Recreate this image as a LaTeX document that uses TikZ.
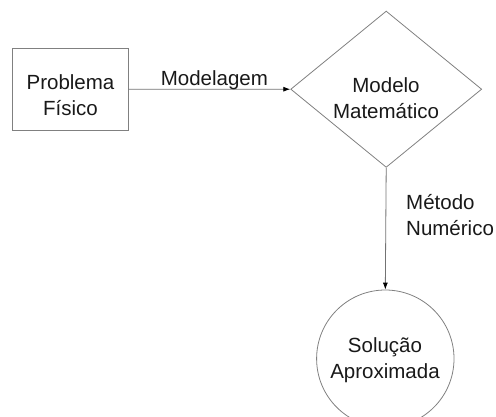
\documentclass[tikz,border=0pt]{standalone}
\usepackage{fontspec}
\setmainfont{Liberation Sans}
\usetikzlibrary{shapes.geometric,arrows.meta}
\begin{document}
\begin{tikzpicture}[x=1bp,y=-1bp,
  shapeline/.style={draw=black!50, line width=0.8bp},
  lbl/.style={font=\fontsize{20.5bp}{26bp}\selectfont, text=black!90, inner sep=0pt, align=center},
  conn/.style={draw=black!55, line width=0.8bp, -{Latex[length=7bp,width=5bp,black]}}]
\useasboundingbox (0,0) rectangle (496,416);
\node[shapeline, rectangle, minimum width=115.6bp, minimum height=81.3bp, inner sep=0pt] (pf) at (70.5,89.3) {};
\node[lbl] (pft) at (70.5,95) {Problema\\Físico};
\node[shapeline, diamond, minimum width=191bp, minimum height=156.3bp, inner sep=0pt] (mm) at (386.2,89.2) {};
\node[lbl] (mmt) at (386,98) {Modelo\\Matemático};
\node[shapeline, circle, minimum size=137.4bp, inner sep=0pt] (sa) at (385.3,358.7) {};
\node[lbl] (sat) at (385,360) {Solução\\Aproximada};
\draw[conn] (pf.east) -- (mm.west) node[lbl, pos=0.53, anchor=base, yshift=4bp] (ml) {Modelagem};
\draw[conn] (mm.south) -- (sa.north);
\node[lbl, align=left, anchor=north west] (mn) at (406,194) {Método\\Numérico};
\end{tikzpicture}
\end{document}
